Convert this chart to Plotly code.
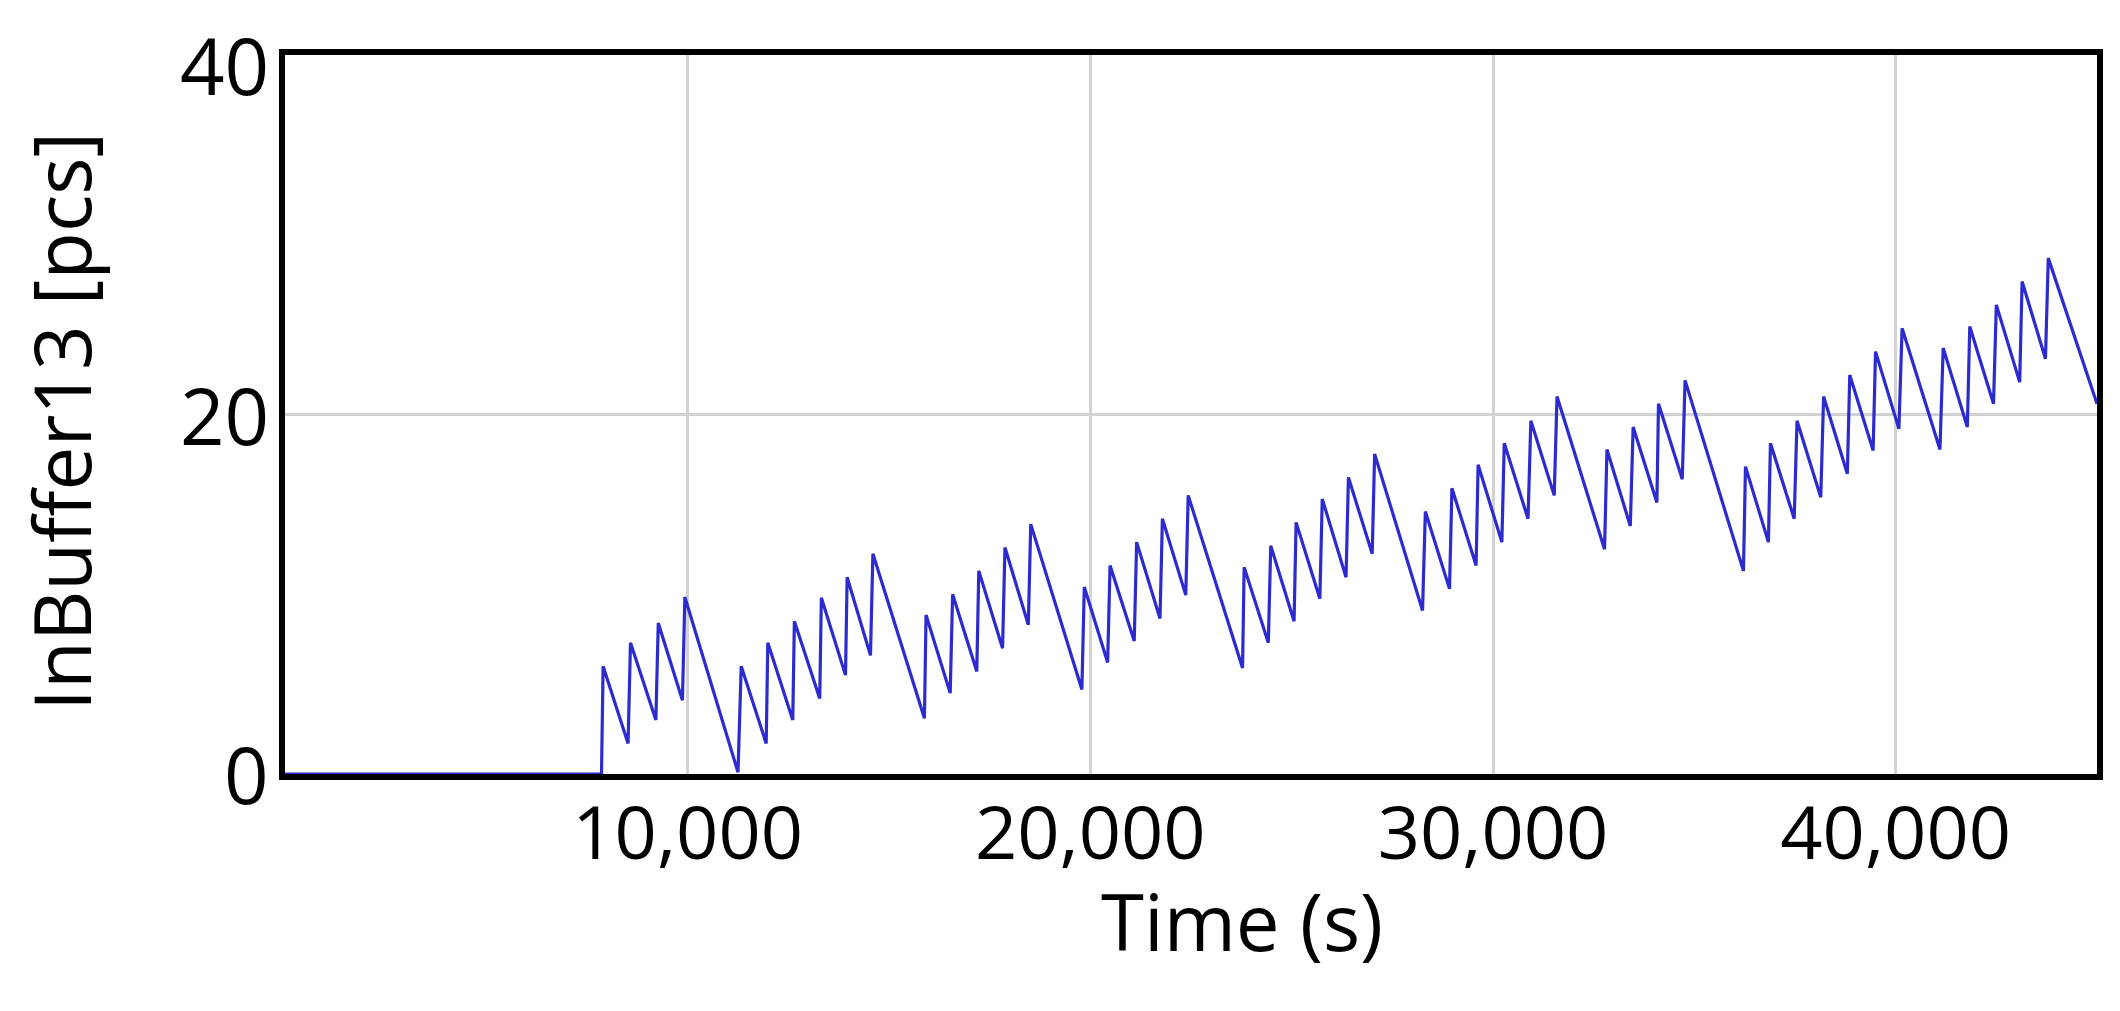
import plotly.graph_objects as go

# Simulation output: time (s) and InBuffer13 content (pcs)
time_s = [0, 7860, 7900, 8520, 8580, 9210, 9270, 9870, 9930, 11250, 11330,
          11950, 11990, 12610, 12650, 13280, 13320, 13920, 13960, 14540, 14600,
          15880, 15920, 16520, 16580, 17180, 17230, 17820, 17880, 18460, 18520,
          19790, 19850, 20430, 20490, 21090, 21150, 21730, 21790, 22370, 22430,
          23780, 23820, 24420, 24480, 25060, 25110, 25700, 25760, 26350, 26410,
          27000, 27060, 28250, 28320, 28920, 28980, 29580, 29630, 30220, 30280,
          30870, 30940, 31520, 31590, 32770, 32830, 33410, 33480, 34070, 34110,
          34700, 34770, 36220, 36270, 36840, 36890, 37480, 37550, 38140, 38210,
          38800, 38860, 39440, 39500, 40080, 40160, 41100, 41180, 41780, 41840,
          42430, 42500, 43080, 43140, 43720, 43790, 45000]
inbuffer13 = [0, 0, 6.0, 1.7, 7.3, 3.0, 8.4, 4.1, 9.85, 0.1, 6.0,
              1.7, 7.3, 3.0, 8.5, 4.2, 9.8, 5.5, 10.95, 6.6, 12.25,
              3.1, 8.85, 4.5, 10.0, 5.7, 11.3, 7.0, 12.6, 8.3, 13.9,
              4.7, 10.4, 6.2, 11.6, 7.4, 12.9, 8.65, 14.2, 9.95, 15.5,
              5.9, 11.5, 7.3, 12.7, 8.5, 14.0, 9.75, 15.3, 10.95, 16.5,
              12.25, 17.8, 9.1, 14.6, 10.3, 15.9, 11.6, 17.2, 12.9, 18.4,
              14.2, 19.65, 15.5, 21.0, 12.5, 18.05, 13.8, 19.3, 15.1, 20.6,
              16.4, 21.9, 11.3, 17.1, 12.9, 18.4, 14.2, 19.65, 15.4, 21.0,
              16.7, 22.2, 18.0, 23.5, 19.2, 24.8, 18.05, 23.7, 19.3, 24.9,
              20.6, 26.1, 21.8, 27.4, 23.1, 28.7, 20.6]

x_ticks = [10000, 20000, 30000, 40000]
y_ticks = [0, 20, 40]
y_max = 40

FONT = "Open Sans"

fig = go.Figure()
fig.add_trace(go.Scatter(
    x=time_s, y=inbuffer13, mode="lines",
    line=dict(color="#2b2bd0", width=3.2),
    hoverinfo="x+y", showlegend=False,
))

axis_common = dict(
    showline=True, mirror=True, linecolor="black", linewidth=6,
    showgrid=True, gridcolor="#d2d2d2", gridwidth=2.8,
    zeroline=False, ticks="", layer="below traces",
    ticklabeloverflow="allow", automargin=False,
)

fig.update_xaxes(range=[0, 45000], tickvals=x_ticks, tickformat=",d",
                 ticklabelstandoff=-10,
                 tickfont=dict(family=FONT, size=74, color="black"),
                 **axis_common)
fig.update_yaxes(range=[0, y_max], tickvals=y_ticks, showticklabels=False,
                 **axis_common)

# y tick labels (the top one sits slightly below its grid line, as in the original)
for v in y_ticks:
    fig.add_annotation(text=str(v), xref="paper", yref="y", x=0, y=v,
                       xanchor="right", yanchor="middle", xshift=-14,
                       yshift=-10 if v == y_max else 0, showarrow=False,
                       font=dict(family=FONT, size=78, color="black"))

fig.add_annotation(text="Time (s)", xref="paper", yref="paper",
                   x=0.528, y=-0.128, xanchor="center", yanchor="top",
                   showarrow=False, font=dict(family=FONT, size=78, color="black"))
fig.add_annotation(text="InBuffer13 [pcs]", xref="paper", yref="paper",
                   x=-0.1236, y=0.49, xanchor="center", yanchor="middle",
                   textangle=-90, showarrow=False,
                   font=dict(family=FONT, size=78, color="black"))

fig.update_layout(
    width=2120, height=1011,
    margin=dict(l=277, r=31, t=47, b=245),
    paper_bgcolor="white", plot_bgcolor="white",
)

fig.write_html("out.html")
